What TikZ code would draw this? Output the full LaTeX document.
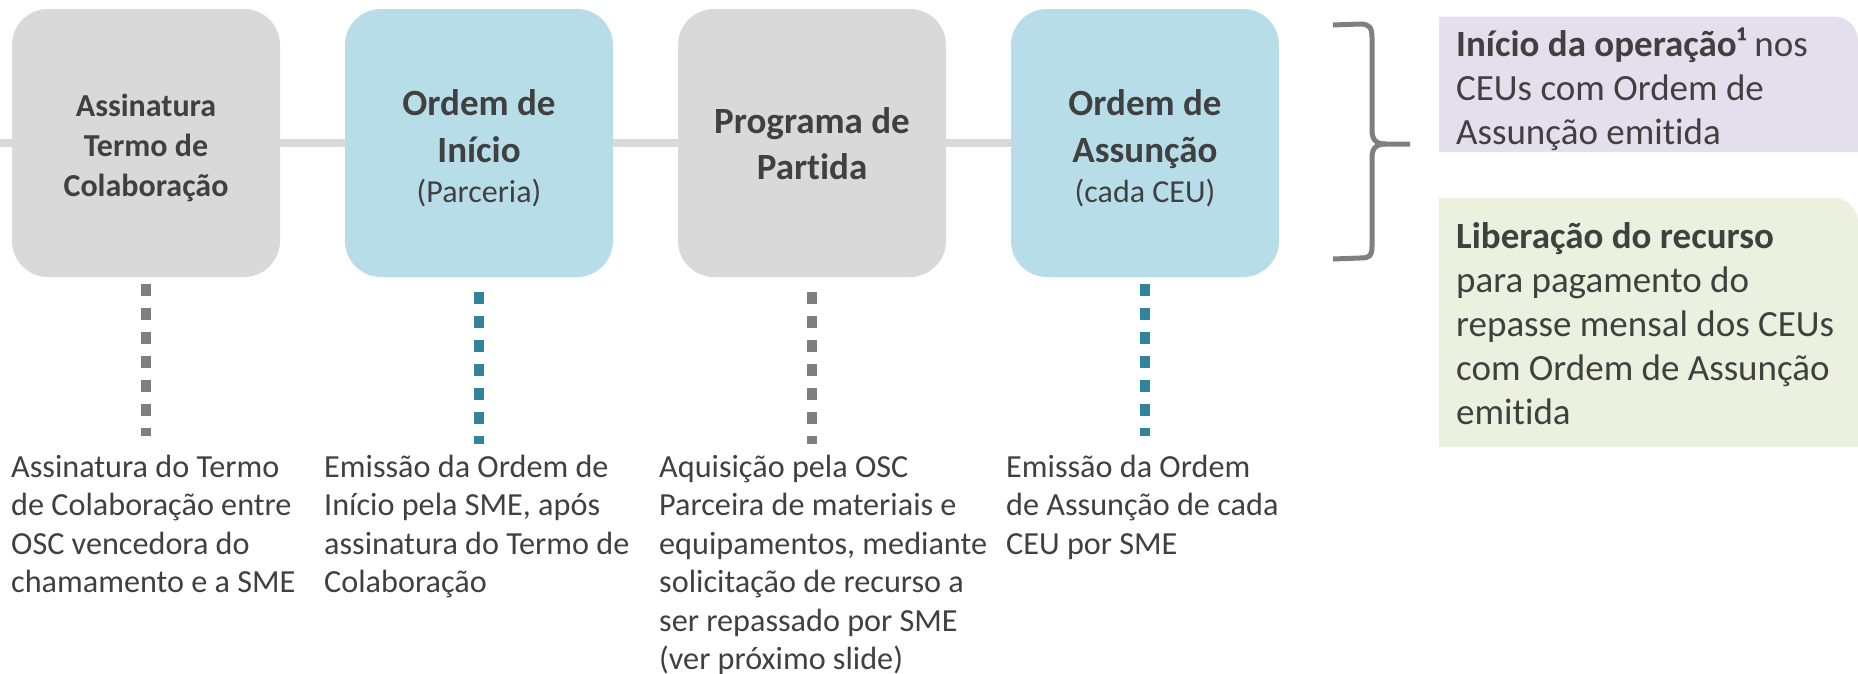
\documentclass[tikz,border=0pt]{standalone}
\usepackage{fontspec}
\setmainfont{Carlito}[Ligatures=NoCommon]
\definecolor{boxgray}{HTML}{D9D9D9}
\definecolor{boxblue}{HTML}{B7DEE8}
\definecolor{txt}{HTML}{404040}
\definecolor{dotgray}{HTML}{7F7F7F}
\definecolor{dotteal}{HTML}{31849B}
\definecolor{purp}{HTML}{E4DFEC}
\definecolor{grn}{HTML}{EBF1DE}
\begin{document}
\begin{tikzpicture}[x=1pt,y=-1pt,
  stepbox/.style={rectangle, rounded corners=36pt, minimum width=268pt, minimum height=268pt, inner sep=0pt},
  graybox/.style={stepbox, fill=boxgray},
  bluebox/.style={stepbox, fill=boxblue},
  bigline/.style={anchor=base, inner sep=0pt, text=txt, font=\fontsize{37}{47}\selectfont\bfseries},
  midline/.style={anchor=base, inner sep=0pt, text=txt, font=\fontsize{32}{40}\selectfont\bfseries},
  subline/.style={anchor=base, inner sep=0pt, text=txt, font=\fontsize{32}{40}\selectfont},
  timeline/.style={line width=8pt, draw=boxgray},
  dotg/.style={line width=10pt, draw=dotgray, dash pattern=on 12pt off 12pt},
  dott/.style={line width=10pt, draw=dotteal, dash pattern=on 12pt off 12pt},
  desc/.style={anchor=north west, align=left, text=txt, inner sep=0pt, font=\fontsize{32.2}{38.5}\selectfont},
  side/.style={anchor=north west, align=left, text=txt, inner sep=0pt, font=\fontsize{37}{44}\selectfont},
  bracestyle/.style={line width=5pt, draw=dotgray, line cap=butt}
]
\useasboundingbox (0,0) rectangle (1858,673);
\clip (0,0) rectangle (1858,673);

% step boxes
\node[graybox] (b1) at (146,143) {};
\node[bluebox] (b2) at (479,143) {};
\node[graybox] (b3) at (812,143) {};
\node[bluebox] (b4) at (1145,143) {};

% box titles
\node[midline] (b1a) at (146,116) {Assinatura};
\node[midline] (b1b) at (146,156.5) {Termo de};
\node[midline] (b1c) at (146,196.5) {Colaboração};
\node[bigline] (b2a) at (479,115) {Ordem de};
\node[bigline] (b2b) at (479,162.5) {Início};
\node[subline] (b2c) at (479,202) {(Parceria)};
\node[bigline] (b3a) at (812,133) {Programa de};
\node[bigline] (b3b) at (812,179.5) {Partida};
\node[bigline] (b4a) at (1145,115) {Ordem de};
\node[bigline] (b4b) at (1145,162.5) {Assunção};
\node[subline] (b4c) at (1145,202) {(cada CEU)};

% timeline
\coordinate (l0) at (-5,143);
\draw[timeline] (l0) -- (b1);
\draw[timeline] (b1) -- (b2);
\draw[timeline] (b2) -- (b3);
\draw[timeline] (b3) -- (b4);

% dotted connectors
\coordinate (e1) at (146,436);
\coordinate (e2) at (479,444);
\coordinate (e3) at (812,444);
\coordinate (e4) at (1145,436);
\draw[dotg] ([yshift=-7pt]b1.south) -- (e1);
\draw[dott] ([yshift=-15pt]b2.south) -- (e2);
\draw[dotg] ([yshift=-15pt]b3.south) -- (e3);
\draw[dott] ([yshift=-7pt]b4.south) -- (e4);

% descriptions
\node[desc] (t1) at (11,454.5) {Assinatura do Termo\\de Colaboração entre\\OSC vencedora do\\chamamento e a SME};
\node[desc] (t2) at (324,454.5) {Emissão da Ordem de\\Início pela SME, após\\assinatura do Termo de\\Colaboração};
\node[desc] (t3) at (659,454.5) {Aquisição pela OSC\\Parceira de materiais e\\equipamentos, mediante\\solicitação de recurso a\\ser repassado por SME\\(ver próximo slide)};
\node[desc] (t4) at (1006,454.5) {Emissão da Ordem\\de Assunção de cada\\CEU por SME};

% brace
\draw[bracestyle] (1333,25) -- (1360,24) .. controls (1370,24) and (1372,28) .. (1372,38) -- (1372,130) .. controls (1372,140) and (1376,144) .. (1386,144) -- (1410,144);
\draw[bracestyle] (1386,144) .. controls (1376,144) and (1372,148) .. (1372,158) -- (1372,246) .. controls (1372,256) and (1370,258) .. (1360,258) -- (1333,259);

% right boxes
\fill[purp] (1439,152) -- (1439,16.5) -- (1834,16.5) .. controls (1847.25,16.5) and (1858,27.25) .. (1858,40.5) -- (1858,152) -- cycle;
\fill[grn] (1439,447) -- (1439,198) -- (1834,198) .. controls (1847.25,198) and (1858,208.75) .. (1858,222) -- (1858,447) -- cycle;
\node[side] (r1) at (1456,28) {\textbf{Início da operação¹} nos\\CEUs com Ordem de\\Assunção emitida};
\node[side] (r2) at (1456,222) {\textbf{Liberação do recurso}\\para pagamento do\\repasse mensal dos CEUs\\com Ordem de Assunção\\emitida};
\end{tikzpicture}
\end{document}
